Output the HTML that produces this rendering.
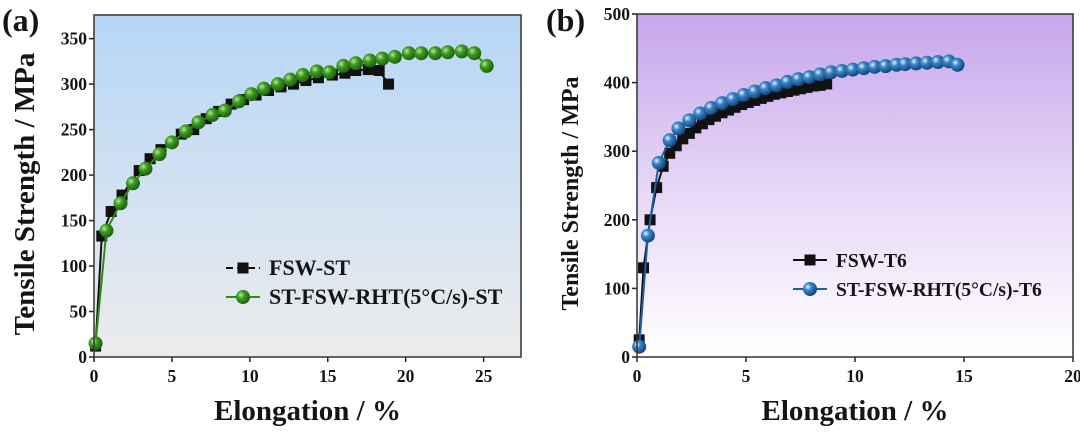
<!DOCTYPE html>
<html><head><meta charset="utf-8"><style>
body{margin:0;background:#fff;width:1080px;height:429px;overflow:hidden}
svg text{font-family:"Liberation Serif",serif;font-weight:bold;fill:#151515}
</style></head><body>
<svg id="c" width="1080" height="429">
<defs>
<linearGradient id="ga" x1="0" y1="0" x2="0" y2="1"><stop offset="0" stop-color="#b6d6f7"/><stop offset="1" stop-color="#ececec"/></linearGradient>
<linearGradient id="gb" x1="0" y1="0" x2="0" y2="1"><stop offset="0" stop-color="#c6a6ec"/><stop offset="0.5" stop-color="#e6d6f6"/><stop offset="1" stop-color="#ffffff"/></linearGradient>
<radialGradient id="gg" cx="0.35" cy="0.35" r="0.7"><stop offset="0" stop-color="#b8e69a"/><stop offset="0.4" stop-color="#3a9a1c"/><stop offset="1" stop-color="#1d5c0b"/></radialGradient>
<radialGradient id="gbl" cx="0.35" cy="0.35" r="0.7"><stop offset="0" stop-color="#e8f4ff"/><stop offset="0.35" stop-color="#3a86c8"/><stop offset="1" stop-color="#0d3f78"/></radialGradient>
</defs>
</svg>
<script>
const aSqX=[0.1,0.5,1.1,1.8,2.9,3.6,4.3,5.6,6.4,7.2,8.0,8.8,9.6,10.4,11.2,12.0,12.8,13.6,14.4,15.3,16.1,16.8,17.6,18.3,18.9];
const aSqY=[12,133,160,178,205,218,228,245,250,262,270,278,283,288,293,297,300,304,307,310,312,315,316,315,300];
const aCiX=[0.1,0.8,1.7,2.5,3.3,4.2,5.0,5.9,6.7,7.6,8.4,9.3,10.1,10.9,11.8,12.6,13.4,14.3,15.1,16.0,16.8,17.7,18.5,19.3,20.2,21.0,21.9,22.7,23.6,24.4,25.2];
const aCiY=[15,139,169,191,207,223,236,248,258,266,271,281,289,295,300,305,310,314,313,320,323,326,328,330,334,334,334,335,336,334,320];
const bSqX=[0.1,0.3,0.6,0.9,1.2,1.5,1.8,2.1,2.4,2.7,3.0,3.3,3.6,3.9,4.2,4.5,4.8,5.1,5.4,5.7,6.0,6.3,6.6,6.9,7.2,7.5,7.8,8.1,8.4,8.7];
const bSqY=[25,130,200,247,278,297,308,318,326,334,340,346,351,356,360,364,368,371,374,377,380,383,385,387,389,391,393,395,396,398];
const bCiX=[0.1,0.5,1.0,1.5,1.9,2.4,2.9,3.4,3.9,4.4,4.9,5.4,5.9,6.4,6.9,7.4,7.9,8.4,8.9,9.4,9.9,10.4,10.9,11.4,11.9,12.3,12.8,13.3,13.8,14.3,14.7];
const bCiY=[15,177,283,316,333,345,355,363,370,376,382,387,392,396,401,405,408,412,415,417,419,421,423,424,426,427,428,429,430,431,426];
const aXTicks=[0,5,10,15,20,25], aYTicks=[0,50,100,150,200,250,300,350];
const bXTicks=[0,5,10,15,20], bYTicks=[0,100,200,300,400,500];

const svg=document.getElementById('c');const NS='http://www.w3.org/2000/svg';
function el(t,a,p){const e=document.createElementNS(NS,t);for(const k in a)e.setAttribute(k,a[k]);(p||svg).appendChild(e);return e;}
function panel(o){
  const g=el('g',{});
  
  
  const X=v=>o.L+(v-o.x0)/(o.x1-o.x0)*(o.R-o.L);
  const Y=v=>o.B-(v-o.y0)/(o.y1-o.y0)*(o.B-o.T);
  const bg=el('rect',{x:o.L,y:o.T,width:o.R-o.L,height:o.B-o.T,fill:o.fill},g);
  
  
  o.xt.forEach(v=>{el('line',{x1:X(v),x2:X(v),y1:o.B,y2:o.B+5,stroke:'#222','stroke-width':1.5},g);
    const t=el('text',{x:X(v),y:o.B+25,'text-anchor':'middle','font-size':17.5},g);t.textContent=v;
    });
  o.yt.forEach(v=>{el('line',{x1:o.L-5,x2:o.L,y1:Y(v),y2:Y(v),stroke:'#222','stroke-width':1.5},g);
    const t=el('text',{x:o.L-7,y:Y(v)+6,'text-anchor':'end','font-size':17.5},g);t.textContent=v;
    });
  function series(xs,ys,col,kind,name){
    const sg=el('g',{},g);
    
    
    el('polyline',{points:xs.map((x,i)=>X(x)+','+Y(ys[i])).join(' '),fill:'none',stroke:col,'stroke-width':2},sg);
    xs.forEach((x,i)=>{ if(kind==='sq') el('rect',{x:X(x)-5.5,y:Y(ys[i])-5.5,width:11,height:11,fill:'#111'},sg);
      else el('circle',{cx:X(x),cy:Y(ys[i]),r:7,fill:o.cf},sg);});
  }
  series(o.sqx,o.sqy,'#111','sq','series-square');
  series(o.cx,o.cy,o.cc,'ci','series-circle');
  el('rect',{x:o.L,y:o.T,width:o.R-o.L,height:o.B-o.T,fill:'none',stroke:'#333','stroke-width':1.5},g);
  o.leg.forEach((lg,i)=>{const y=o.ly+i*29;const lgG=el('g',{},g);
    
    el('line',{x1:o.lx,x2:o.lx+34,y1:y,y2:y,stroke:i?o.cc:'#111','stroke-width':2,'stroke-dasharray':o.dash&&!i?'7 4':'none'},lgG);
    if(!i) el('rect',{x:o.lx+11.5,y:y-5.5,width:11,height:11,fill:'#111'},lgG); else el('circle',{cx:o.lx+17,cy:y,r:7,fill:o.cf},lgG);
    const t=el('text',{x:o.lx+43,y:y+7,'font-size':o.lfs},lgG);t.textContent=lg;});
  const xt=el('text',{x:(o.L+o.R)/2,y:420,'text-anchor':'middle','font-size':29},g);xt.textContent='Elongation / %';
  
  const yt=el('text',{x:0,y:0,'text-anchor':'middle','font-size':o.yfs,transform:`translate(${o.yx},${(o.T+o.B)/2+8}) rotate(-90)`},g);yt.textContent='Tensile Strength / MPa';
  
  const pl=el('text',{x:o.plx,y:31,'font-size':32},g);pl.textContent=o.pl;
  
}
panel({id:'panel-a',L:94,R:521,T:15,B:357,x0:0,x1:27.4,y0:0,y1:376,fill:'url(#ga)',xt:aXTicks,yt:aYTicks,
  sqx:aSqX,sqy:aSqY,cx:aCiX,cy:aCiY,cc:'#2f8a14',cf:'url(#gg)',leg:['FSW-ST','ST-FSW-RHT(5°C/s)-ST'],lx:226,ly:268,lfs:22,dash:true,yx:34,yfs:29,plx:2,pl:'(a)'});
panel({id:'panel-b',L:637,R:1073,T:14,B:357,x0:0,x1:20,y0:0,y1:500,fill:'url(#gb)',xt:bXTicks,yt:bYTicks,
  sqx:bSqX,sqy:bSqY,cx:bCiX,cy:bCiY,cc:'#1f5fa8',cf:'url(#gbl)',leg:['FSW-T6','ST-FSW-RHT(5°C/s)-T6'],lx:793,ly:260,lfs:19.5,dash:false,yx:578,yfs:24,plx:546,pl:'(b)'});
</script>
</body></html>
